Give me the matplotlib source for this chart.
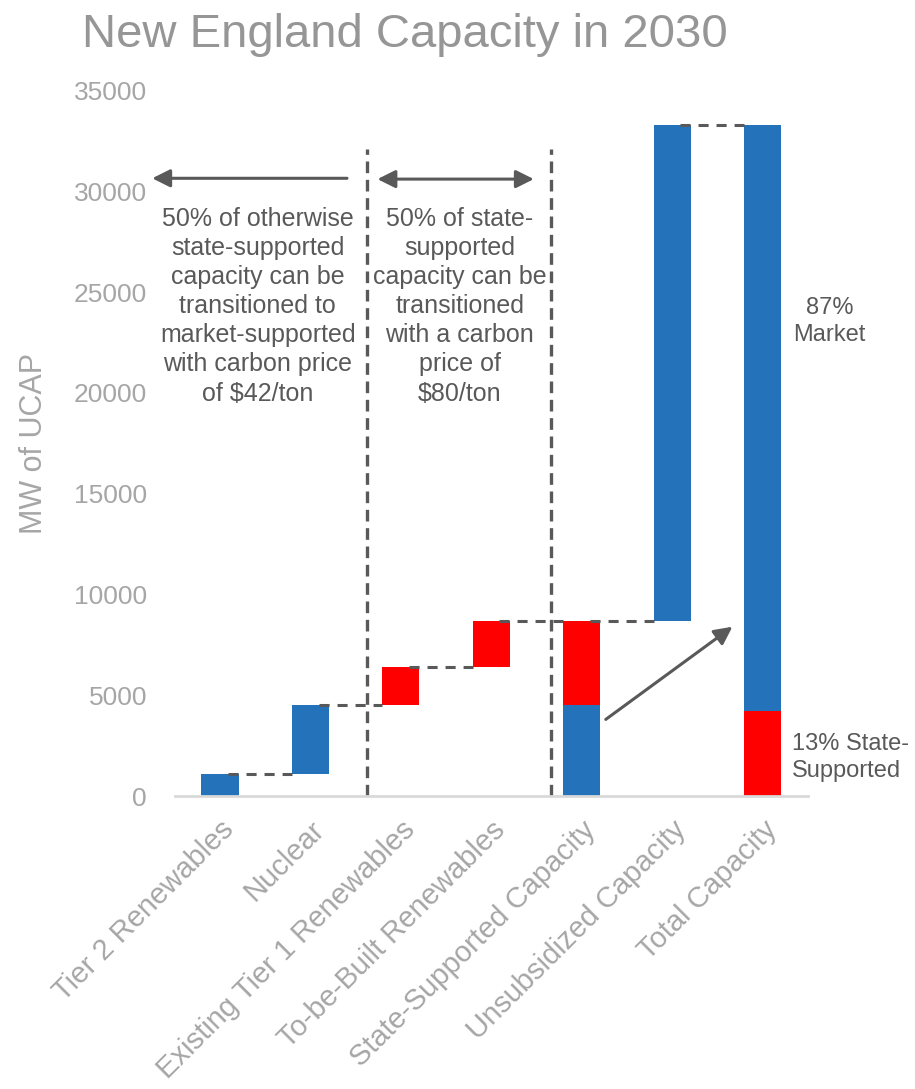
import numpy as np
import matplotlib
matplotlib.use("Agg")
import matplotlib.pyplot as plt

####################

categories = ['Tier 2 Renewables', 'Nuclear', 'Existing Tier 1 Renewables',
              'To-be-Built Renewables', 'State-Supported Capacity',
              'Unsubsidized Capacity', 'Total Capacity']

# MW of UCAP
tier2 = 1100
nuclear = 3400
existing_t1 = 1900
to_be_built = 2300
unsubsidized = 24600

blue = '#2372BA'
red = '#FF0000'
dark = '#595959'
light = '#A6A6A6'

font = ['Liberation Sans', 'DejaVu Sans']

####################

market_part = tier2 + nuclear              # can move to market at $42/ton
state_part = existing_t1 + to_be_built     # needs $80/ton
state_total = market_part + state_part
total = state_total + unsubsidized

blue_vals = [tier2, nuclear, 0, 0, market_part, unsubsidized, total - state_part]
blue_bot = [0, tier2, 0, 0, 0, state_total, state_part]
red_vals = [0, 0, existing_t1, to_be_built, state_part, 0, state_part]
red_bot = [0, 0, market_part, market_part + existing_t1, market_part, 0, 0]

x = np.arange(len(categories))
w = 0.41

fig = plt.figure(figsize=(9.15, 10.89), dpi=100)
ax = fig.add_axes([0.191, 0.269, 0.692, 0.648])

ax.bar(x, blue_vals, w, bottom=blue_bot, color=blue, zorder=2)
ax.bar(x, red_vals, w, bottom=red_bot, color=red, zorder=2)

# connector lines between bars
levels = [tier2, market_part, market_part + existing_t1, state_total, state_total, total]
dash = dict(color=dark, lw=2.2, linestyle=(0, (3.3, 2.6)), zorder=3)
for i, lev in enumerate(levels):
    ax.plot([i + 0.09, i + 1 - w / 2], [lev, lev], **dash)

# section dividers
for xv in [1.623, 3.658]:
    ax.plot([xv, xv], [0, 32100], color=dark, lw=2.4, linestyle=(0, (3.5, 2)), zorder=1)

# arrows over the sections
ax.annotate('', xy=(-0.78, 30640), xytext=(1.435, 30640),
            arrowprops=dict(arrowstyle='-|>', color=dark, lw=2.2, mutation_scale=27),
            annotation_clip=False)
ax.annotate('', xy=(3.50, 30600), xytext=(1.71, 30600),
            arrowprops=dict(arrowstyle='<|-|>', color=dark, lw=2.2, mutation_scale=27),
            annotation_clip=False)
ax.annotate('', xy=(5.69, 8480), xytext=(4.24, 3720),
            arrowprops=dict(arrowstyle='-|>', color=dark, lw=2.2, mutation_scale=27))

ax.text(0.418, 24300, '50% of otherwise\nstate-supported\ncapacity can be\ntransitioned to\n'
        'market-supported\nwith carbon price\nof $42/ton',
        ha='center', va='center', fontsize=18, color=dark, family=font, linespacing=1.27)
ax.text(2.65, 24300, '50% of state-\nsupported\ncapacity can be\ntransitioned\n'
        'with a carbon\nprice of\n$80/ton',
        ha='center', va='center', fontsize=18, color=dark, family=font, linespacing=1.27)

ax.text(6.74, 23550, '87%\nMarket', ha='center', va='center', fontsize=17,
        color=dark, family=font, linespacing=1.3, clip_on=False)
ax.text(6.32, 1930, '13% State-\nSupported', ha='left', va='center', fontsize=17,
        color=dark, family=font, linespacing=1.3, clip_on=False)

ax.set_xlim(-0.5, 6.5)
ax.set_ylim(0, 35000)
ax.set_yticks(np.arange(0, 35001, 5000))
ax.set_xticks(x)
ax.set_xticklabels(categories, rotation=45, ha='right', rotation_mode='anchor')
for lab in ax.get_xticklabels():
    lab.set_family(font)
    lab.set_fontsize(21)
    lab.set_color(light)
for lab in ax.get_yticklabels():
    lab.set_family(font)
    lab.set_fontsize(19)
    lab.set_color(light)
ax.tick_params(axis='y', length=0, pad=20)
ax.tick_params(axis='x', length=0, pad=14)

for s in ['top', 'right', 'left']:
    ax.spines[s].set_visible(False)
ax.spines['bottom'].set_color('#D9D9D9')
ax.spines['bottom'].set_linewidth(2)

ax.set_ylabel('MW of UCAP', fontsize=22, color=light, family=font, labelpad=18)
fig.text(0.443, 0.968, 'New England Capacity in 2030', ha='center', va='center',
         fontsize=34, color='#969696', family=font)

fig.savefig('out.png', dpi=100)
